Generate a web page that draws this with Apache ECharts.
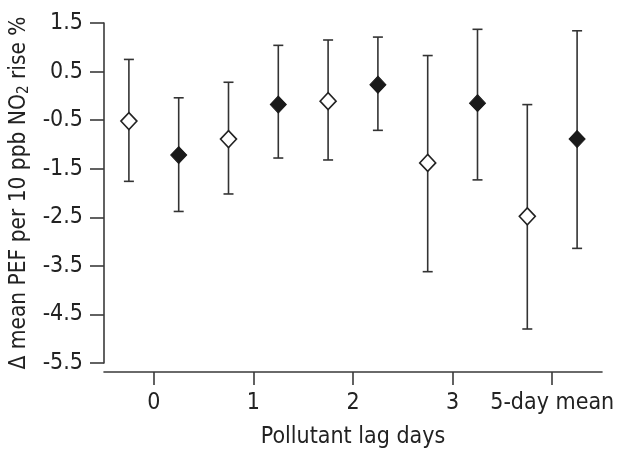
<!DOCTYPE html>
<html>
<head>
<meta charset="utf-8">
<script src="https://cdn.jsdelivr.net/npm/echarts@6/dist/echarts.min.js"></script>
<style>
html,body{margin:0;padding:0;background:#fff;}
#chart{width:624px;height:450px;}
</style>
</head>
<body>
<div id="chart"></div>
<script>
var categories = ['0', '1', '2', '3', '5-day mean'];
var yTicks = [-5.5, -4.5, -3.5, -2.5, -1.5, -0.5, 0.5, 1.5];

// open diamonds (left of each category)
var openEst  = [-0.52, -0.89, -0.11, -1.38, -2.48];
var openLow  = [-1.76, -2.02, -1.32, -3.62, -4.80];
var openHigh = [ 0.75,  0.28,  1.15,  0.83, -0.18];

// filled diamonds (right of each category)
var filledEst  = [-1.22, -0.18,  0.23, -0.15, -0.89];
var filledLow  = [-2.38, -1.28, -0.71, -1.73, -3.14];
var filledHigh = [-0.04,  1.04,  1.21,  1.37,  1.34];

var FONT = "'Liberation Sans Narrow', 'DejaVu Sans Condensed', sans-serif";
var AX = '#3a3a3a';
var OFF = 0.25;
var FS = 23;

function build(est, lo, hi, shift) {
  var pts = [], bars = [];
  for (var i = 0; i < est.length; i++) {
    pts.push([i + shift, est[i]]);
    bars.push([i + shift, lo[i], hi[i]]);
  }
  return {pts: pts, bars: bars};
}
var openD = build(openEst, openLow, openHigh, -OFF);
var filledD = build(filledEst, filledLow, filledHigh, OFF);

function errRender(params, api) {
  var x = api.value(0);
  var top = api.coord([x, api.value(2)]);
  var bot = api.coord([x, api.value(1)]);
  var hw = 5;
  var st = {stroke: '#333', lineWidth: 1.6};
  return {
    type: 'group',
    children: [
      {type: 'line', shape: {x1: top[0], y1: top[1], x2: bot[0], y2: bot[1]}, style: st},
      {type: 'line', shape: {x1: top[0] - hw, y1: top[1], x2: top[0] + hw, y2: top[1]}, style: st},
      {type: 'line', shape: {x1: bot[0] - hw, y1: bot[1], x2: bot[0] + hw, y2: bot[1]}, style: st}
    ]
  };
}

var chart = echarts.init(document.getElementById('chart'), null, {renderer: 'canvas'});
chart.setOption({
  animation: false,
  backgroundColor: '#fff',
  textStyle: {fontFamily: FONT},
  grid: {left: 104, right: 22, top: 23, bottom: 87, containLabel: false, outerBoundsMode: 'none'},
  xAxis: [
    {
      type: 'category',
      data: categories,
      offset: 9,
      boundaryGap: true,
      axisLine: {onZero: false, lineStyle: {color: AX, width: 1.6}},
      axisTick: {show: true, interval: 0, alignWithLabel: true, length: 13, lineStyle: {color: AX, width: 1.6}},
      axisLabel: {color: '#222', fontSize: FS, fontFamily: FONT, margin: 20, interval: 0},
      name: 'Pollutant lag days',
      nameLocation: 'middle',
      nameGap: 54,
      nameTextStyle: {color: '#222', fontSize: FS, fontFamily: FONT},
      splitLine: {show: false}
    },
    {
      type: 'value',
      min: -0.5,
      max: 4.5,
      show: false,
      axisLine: {onZero: false}
    }
  ],
  yAxis: {
    type: 'value',
    min: -5.5,
    max: 1.5,
    interval: 1,
    axisLine: {show: true, onZero: false, lineStyle: {color: AX, width: 1.6}},
    axisTick: {show: true, length: 14, lineStyle: {color: AX, width: 1.6}},
    axisLabel: {
      color: '#222', fontSize: FS, fontFamily: FONT, margin: 21,
      formatter: function (v) { return v.toFixed(1); }
    },
    splitLine: {show: false},
    name: '{a|\u0394 mean PEF per 10 ppb NO}{s|2}{a| rise %}',
    nameLocation: 'middle',
    nameRotate: 90,
    nameGap: 53,
    nameTextStyle: {
      rich: {
        a: {fontSize: 22.5, fontFamily: FONT, color: '#222', lineHeight: 27},
        s: {fontSize: 15, fontFamily: FONT, color: '#222', lineHeight: 27, padding: [11, 0, 0, 0]}
      }
    }
  },
  series: [
    {
      type: 'custom', xAxisIndex: 1, renderItem: errRender,
      data: openD.bars, z: 2, silent: true
    },
    {
      type: 'custom', xAxisIndex: 1, renderItem: errRender,
      data: filledD.bars, z: 2, silent: true
    },
    {
      type: 'scatter', xAxisIndex: 1, data: openD.pts, symbol: 'diamond',
      symbolSize: [16, 17], z: 5,
      itemStyle: {color: '#fff', borderColor: '#222', borderWidth: 1.6, opacity: 1}
    },
    {
      type: 'scatter', xAxisIndex: 1, data: filledD.pts, symbol: 'diamond',
      symbolSize: [16, 17], z: 5,
      itemStyle: {color: '#1a1a1a', borderColor: '#1a1a1a', borderWidth: 1, opacity: 1}
    }
  ]
});
</script>
</body>
</html>
